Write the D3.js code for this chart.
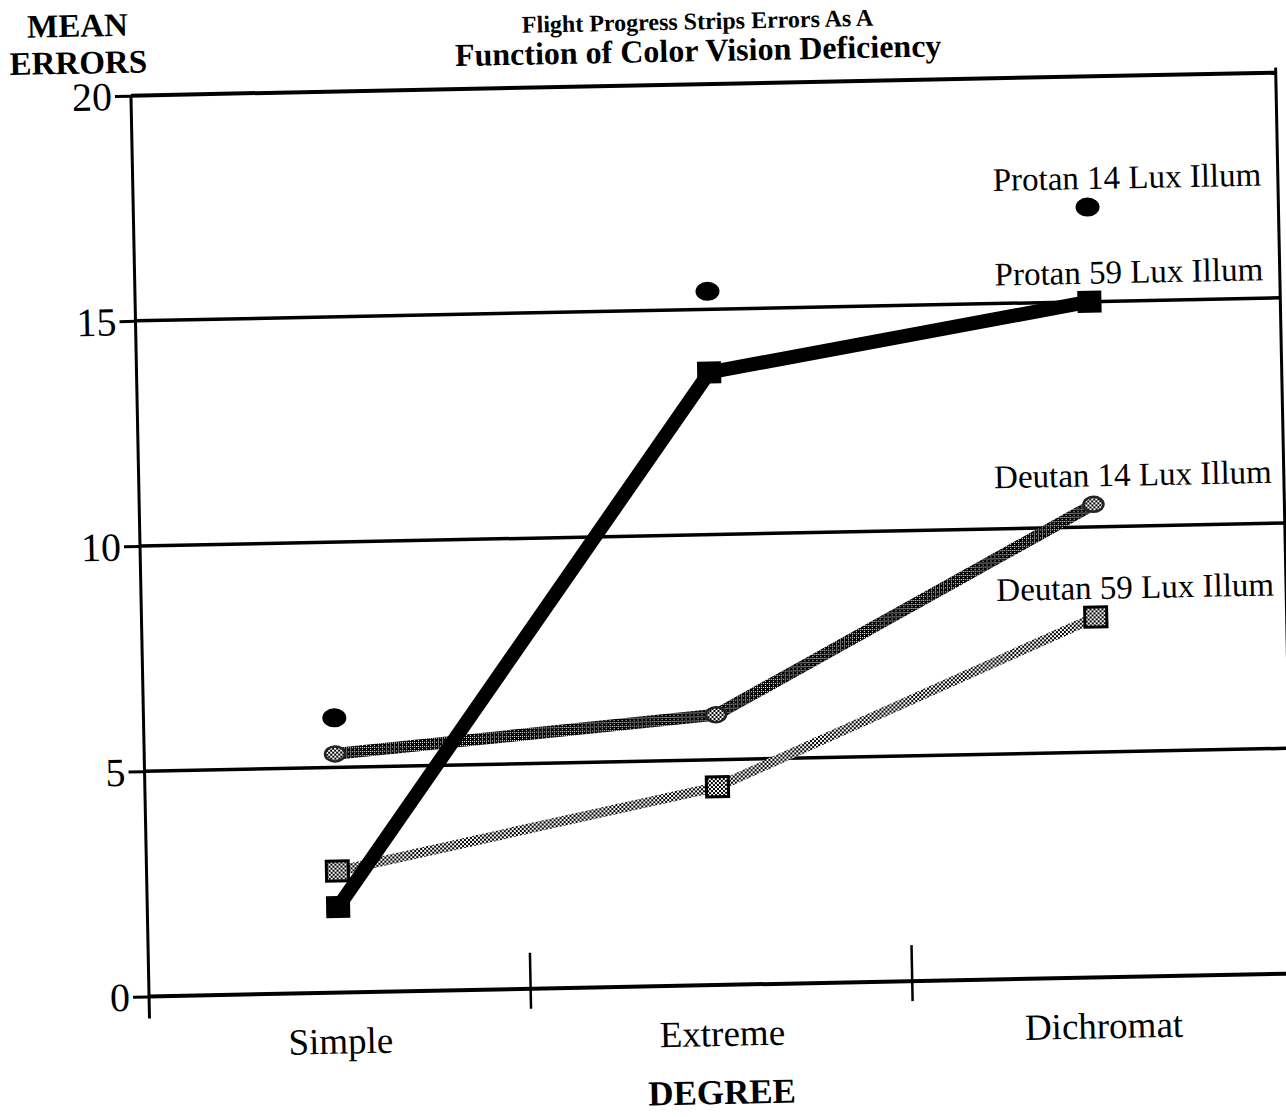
<!DOCTYPE html>
<html>
<head>
<meta charset="utf-8">
<script src="https://cdn.jsdelivr.net/npm/d3@7"></script>
<style>
  body { margin: 0; background: #fff; }
  svg { display: block; }
</style>
</head>
<body>
<div id="chart"></div>
<script>
// values
const categories = ['Simple', 'Extreme', 'Dichromat'];
const protan14 = [6.1, 15.4, 17.1];
const protan59 = [1.9, 13.6, 15.0];
const deutan14 = [5.3, 6.0, 10.5];
const deutan59 = [2.7, 4.4, 8.0];
const yTicks = [0, 5, 10, 15, 20];
const gridValues = [5, 10, 15];
const seriesLabels = ['Protan 14 Lux Illum', 'Protan 59 Lux Illum', 'Deutan 14 Lux Illum', 'Deutan 59 Lux Illum'];
const titleLines = ['Flight Progress Strips Errors As A', 'Function of Color Vision Deficiency'];
const yTitle = ['MEAN', 'ERRORS'];
const xTitle = 'DEGREE';

const W = 1286, H = 1117;
const serif = '"Liberation Serif", "Times New Roman", serif';

const svg = d3.select('#chart').append('svg')
  .attr('width', W)
  .attr('height', H);

// stipple fills like the photocopied original
const defs = svg.append('defs');
const light = defs.append('pattern').attr('id', 'stipLight')
  .attr('patternUnits', 'userSpaceOnUse').attr('width', 4).attr('height', 4);
light.append('rect').attr('width', 4).attr('height', 4).attr('fill', '#fff');
light.append('rect').attr('width', 2).attr('height', 2).attr('fill', '#000');
light.append('rect').attr('x', 2).attr('y', 2).attr('width', 2).attr('height', 2).attr('fill', '#000');

const dark = defs.append('pattern').attr('id', 'stipDark')
  .attr('patternUnits', 'userSpaceOnUse').attr('width', 4).attr('height', 4);
dark.append('rect').attr('width', 4).attr('height', 4).attr('fill', '#000');
dark.append('rect').attr('width', 1).attr('height', 1).attr('fill', '#fff');
dark.append('rect').attr('x', 2).attr('y', 2).attr('width', 1).attr('height', 1).attr('fill', '#fff');
dark.append('rect').attr('x', 2).attr('y', 0).attr('width', 1).attr('height', 1).attr('fill', '#fff');

// the scan is slightly tilted
const g = svg.append('g').attr('transform', 'rotate(-1.15,715,540)');

const x = d3.scaleBand().domain(categories).range([140, 1285]);
const y = d3.scaleLinear().domain([0, 20]).range([985, 84]);
const cx = c => x(c) + x.bandwidth() / 2;
const left = x.range()[0], right = x.range()[1];

// titles
g.selectAll('.title').data(titleLines).enter().append('text')
  .attr('x', 708)
  .attr('y', (d, i) => i === 0 ? 29 : 61)
  .attr('text-anchor', 'middle')
  .style('font-family', serif).style('font-weight', 'bold')
  .style('font-size', (d, i) => i === 0 ? '24px' : '32px')
  .text(d => d);

g.selectAll('.ytitle').data(yTitle).enter().append('text')
  .attr('x', 88)
  .attr('y', (d, i) => 24 + i * 37)
  .attr('text-anchor', 'middle')
  .style('font-family', serif).style('font-weight', 'bold').style('font-size', '33px')
  .text(d => d);

// horizontal grid lines
g.selectAll('.grid').data(gridValues).enter().append('line')
  .attr('x1', left).attr('x2', right)
  .attr('y1', d => y(d)).attr('y2', d => y(d))
  .attr('stroke', '#000').attr('stroke-width', 3.5);

// frame
g.append('line').attr('x1', left).attr('x2', right).attr('y1', y(20)).attr('y2', y(20))
  .attr('stroke', '#000').attr('stroke-width', 4);
g.append('line').attr('x1', right).attr('x2', right).attr('y1', y(20) - 5).attr('y2', y(0))
  .attr('stroke', '#000').attr('stroke-width', 3);

// y axis
g.append('g')
  .attr('transform', `translate(${left},0)`)
  .call(d3.axisLeft(y).tickValues(yTicks).tickSize(16).tickPadding(3).tickFormat(d3.format('d')))
  .call(a => a.select('.domain').attr('d', `M0,${y(20)}V${y(0) + 22}`).attr('stroke-width', 3))
  .call(a => a.selectAll('.tick line').attr('stroke-width', 3))
  .call(a => a.selectAll('.tick text').style('font-family', serif).style('font-size', '40px').attr('dy', '0.34em'));

// x axis baseline and category dividers
g.append('line').attr('x1', left).attr('x2', right).attr('y1', y(0)).attr('y2', y(0))
  .attr('stroke', '#000').attr('stroke-width', 4);
g.selectAll('.divider').data(categories.slice(1)).enter().append('line')
  .attr('x1', d => x(d)).attr('x2', d => x(d))
  .attr('y1', y(0) - 36).attr('y2', y(0) + 20)
  .attr('stroke', '#000').attr('stroke-width', 2.5);

g.selectAll('.cat').data(categories).enter().append('text')
  .attr('x', d => cx(d))
  .attr('y', 1046)
  .attr('text-anchor', 'middle')
  .style('font-family', serif).style('font-size', '37px')
  .text(d => d);

g.append('text')
  .attr('x', 711).attr('y', 1104)
  .attr('text-anchor', 'middle')
  .style('font-family', serif).style('font-weight', 'bold').style('font-size', '35px')
  .text(xTitle);

// series
const line = d3.line().x((d, i) => cx(categories[i])).y(d => y(d));

g.append('path').datum(deutan59)
  .attr('fill', 'none').attr('stroke', 'url(#stipLight)').attr('stroke-width', 10)
  .attr('d', line);
g.append('path').datum(deutan14)
  .attr('fill', 'none').attr('stroke', 'url(#stipDark)').attr('stroke-width', 12)
  .attr('stroke-linecap', 'round')
  .attr('d', line);
g.append('path').datum(protan59)
  .attr('fill', 'none').attr('stroke', '#000').attr('stroke-width', 14)
  .attr('stroke-linejoin', 'round')
  .attr('d', line);

// markers
g.selectAll('.d59').data(deutan59).enter().append('rect')
  .attr('x', (d, i) => cx(categories[i]) - 11)
  .attr('y', d => y(d) - 10)
  .attr('width', 22).attr('height', 20)
  .attr('fill', 'url(#stipLight)').attr('stroke', '#000').attr('stroke-width', 3);

g.selectAll('.d14').data(deutan14).enter().append('ellipse')
  .attr('cx', (d, i) => cx(categories[i]))
  .attr('cy', d => y(d))
  .attr('rx', 10).attr('ry', 7.5)
  .attr('fill', 'url(#stipLight)').attr('stroke', '#222').attr('stroke-width', 2.5);

g.selectAll('.p59').data(protan59).enter().append('rect')
  .attr('x', (d, i) => cx(categories[i]) - 12)
  .attr('y', d => y(d) - 11)
  .attr('width', 24).attr('height', 22)
  .attr('fill', '#000');

g.selectAll('.p14').data(protan14).enter().append('ellipse')
  .attr('cx', (d, i) => cx(categories[i]))
  .attr('cy', d => y(d))
  .attr('rx', 12).attr('ry', 9.5)
  .attr('fill', '#000');

// series labels next to the last point
const lastValues = [protan14, protan59, deutan14, deutan59].map(s => s[s.length - 1]);
const lastCat = categories[categories.length - 1];
g.selectAll('.slabel').data(seriesLabels).enter().append('text')
  .attr('x', cx(lastCat) + 40)
  .attr('y', (d, i) => y(lastValues[i]) - 18)
  .attr('text-anchor', 'middle')
  .style('font-family', serif).style('font-size', '33px')
  .text(d => d);
</script>
</body>
</html>
